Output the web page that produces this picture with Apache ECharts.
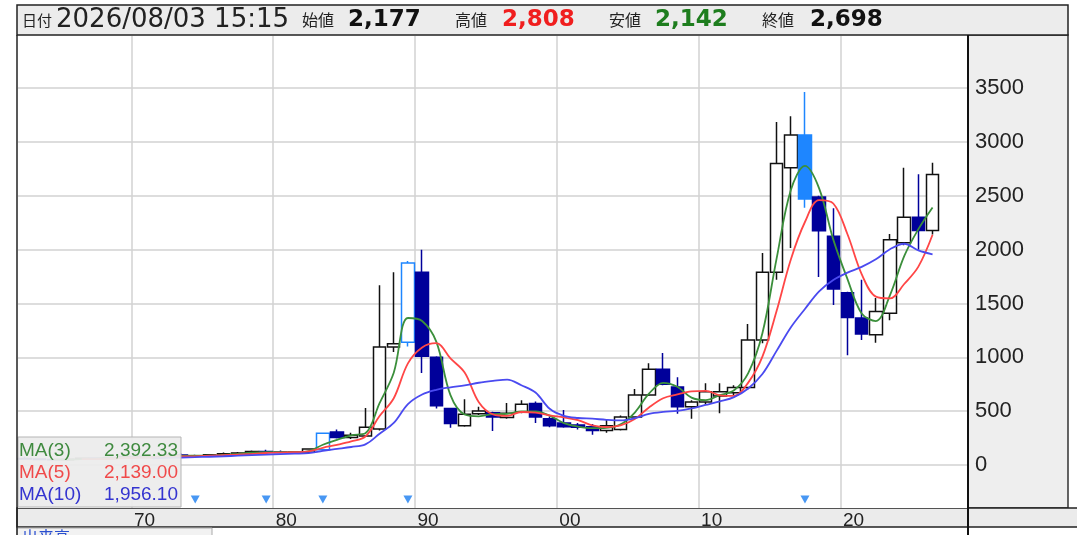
<!DOCTYPE html>
<html>
<head>
<meta charset="utf-8">
<script src="https://cdn.jsdelivr.net/npm/echarts@6/dist/echarts.min.js"></script>
<style>
html,body{margin:0;padding:0;background:#fff;}
#c{width:1077px;height:535px;}
</style>
</head>
<body>
<div id="c"></div>
<script>
// ---- data ----
const categories = ['1962','1963','1964','1965','1966','1967','1968','1969','1970','1971','1972','1973','1974','1975','1976','1977','1978','1979','1980','1981','1982','1983','1984','1985','1986','1987','1988','1989','1990','1991','1992','1993','1994','1995','1996','1997','1998','1999','2000','2001','2002','2003','2004','2005','2006','2007','2008','2009','2010','2011','2012','2013','2014','2015','2016','2017','2018','2019','2020','2021','2022','2023','2024','2025','2026','2027','2028'];
const opens  = [60,55,50,48,52,62,58,68,78,70,75,92,85,80,95,105,110,125,120,115,118,140,305,255,270,335,1095,1140,1790,1000,525,365,475,485,440,490,570,430,390,370,355,320,330,445,650,890,725,540,585,640,670,720,1160,1790,2760,3065,2490,2125,1600,1365,1210,1410,2065,2300,2177];
const highs  = [75,62,58,55,68,70,72,85,88,82,100,110,95,100,115,120,135,140,135,125,155,300,330,300,530,1670,1790,1895,2000,1010,530,610,540,495,575,600,590,450,510,390,380,420,460,705,945,1040,815,600,760,760,740,1310,1970,3185,3240,3465,2500,2385,1610,1720,1550,2145,2760,2700,2808];
const lows   = [50,45,42,40,50,52,55,62,62,60,70,75,70,75,85,95,100,110,110,105,110,130,245,240,260,320,1050,1100,855,525,345,355,465,315,430,480,390,350,345,330,280,300,320,440,640,740,475,430,560,480,650,700,1130,1720,2015,2390,1745,1485,1020,1160,1135,1345,2040,2000,2142];
const closes = [55,50,48,52,62,58,68,78,70,75,92,85,80,95,105,110,125,120,115,120,148,295,255,275,350,1095,1125,1875,1010,550,385,470,500,445,480,565,445,365,355,350,320,365,445,650,890,750,540,585,680,680,720,1160,1790,2800,3065,2470,2175,1635,1370,1216,1425,2093,2302,2177,2698];
const specialYears = ['1983','1989','2017'];
const markerYears  = ['1974','1979','1983','1989','2017'];
const yTicks = [0,500,1000,1500,2000,2500,3000,3500];
const maPeriods = [3,5,10];
const maColors = ['#3b8f3b','#ff4646','#4a4af0'];
const maTextColors = ['#3f8a3f','#f04a4a','#3434d0'];
const headerDate = '2026/08/03 15:15';

// ---- build ----
function ma(n){
  return closes.map((c,i)=>{
    if(i < n-1) return '-';
    let s=0; for(let k=i-n+1;k<=i;k++) s+=closes[k];
    return +(s/n).toFixed(2);
  });
}
const maSeries = maPeriods.map(ma);
const fmt2 = v => v.toLocaleString('en-US',{minimumFractionDigits:2,maximumFractionDigits:2});
const fmt0 = v => v.toLocaleString('en-US');
const last = closes.length-1;
const lightBlue = '#1e86ff';

const candleData = opens.map((o,i)=>{
  const item = {value:[o, closes[i], lows[i], highs[i]]};
  if(specialYears.includes(categories[i])){
    const down = closes[i] < o;
    const fill = down ? lightBlue : '#ffffff';
    item.itemStyle = {color:fill, color0:fill, borderColor:lightBlue, borderColor0:lightBlue};
  }
  return item;
});

const chart = echarts.init(document.getElementById('c'), null, {renderer:'canvas'});
const cjk = '"Noto Sans CJK JP"';
const num = '"Liberation Sans", Arial, sans-serif';

const graphics = [
  {type:'rect', z:-5, shape:{x:968,y:35,width:100,height:473}, style:{fill:'#eeeeee', stroke:'#333', lineWidth:1.5}},
  {type:'rect', z:-5, shape:{x:17,y:508,width:1070,height:19}, style:{fill:'#ebebeb', stroke:'#222', lineWidth:1.5}},
  {type:'line', z:20, shape:{x1:968,y1:35,x2:968,y2:540}, style:{stroke:'#111', lineWidth:2}},
  {type:'line', z:20, shape:{x1:17,y1:35,x2:17,y2:540}, style:{stroke:'#222', lineWidth:1.5}},
  {type:'rect', z:5, shape:{x:17,y:528,width:195,height:12}, style:{fill:'#f2f2f2', stroke:'#aaa', lineWidth:1}},
  {type:'text', z:6, x:22, y:529, style:{text:'出来高', fill:'#2a4fd0', font:'16px '+cjk, align:'left', verticalAlign:'top'}},
  {type:'rect', z:5, shape:{x:17,y:5,width:1051,height:30}, style:{fill:'#ececec', stroke:'#222', lineWidth:1.5}},
  {type:'text', z:6, x:22, y:20, style:{text:'日付', fill:'#222', font:'15px '+cjk, align:'left', verticalAlign:'middle'}},
  {type:'text', z:6, x:56, y:20, style:{text:headerDate, fill:'#222', font:'26px "DejaVu Sans"', align:'left', verticalAlign:'middle'}},
  {type:'text', z:6, x:302, y:20, style:{text:'始値', fill:'#222', font:'16px '+cjk, align:'left', verticalAlign:'middle'}},
  {type:'text', z:6, x:348, y:20, style:{text:fmt0(opens[last]), fill:'#111', font:'bold 23px "DejaVu Sans"', align:'left', verticalAlign:'middle'}},
  {type:'text', z:6, x:455, y:20, style:{text:'高値', fill:'#222', font:'16px '+cjk, align:'left', verticalAlign:'middle'}},
  {type:'text', z:6, x:502, y:20, style:{text:fmt0(highs[last]), fill:'#f01e1e', font:'bold 23px "DejaVu Sans"', align:'left', verticalAlign:'middle'}},
  {type:'text', z:6, x:609, y:20, style:{text:'安値', fill:'#222', font:'16px '+cjk, align:'left', verticalAlign:'middle'}},
  {type:'text', z:6, x:655, y:20, style:{text:fmt0(lows[last]), fill:'#1e7d1e', font:'bold 23px "DejaVu Sans"', align:'left', verticalAlign:'middle'}},
  {type:'text', z:6, x:762, y:20, style:{text:'終値', fill:'#222', font:'16px '+cjk, align:'left', verticalAlign:'middle'}},
  {type:'text', z:6, x:810, y:20, style:{text:fmt0(closes[last]), fill:'#111', font:'bold 23px "DejaVu Sans"', align:'left', verticalAlign:'middle'}},
  {type:'rect', z:10, shape:{x:18,y:437,width:163,height:70}, style:{fill:'rgba(236,236,236,0.94)', stroke:'#b5b5b5', lineWidth:1}}
];
maPeriods.forEach((p,k)=>{
  const y = 451 + k*22;
  const lastVal = maSeries[k][last];
  graphics.push({type:'text', z:11, x:19, y:y, style:{text:'MA('+p+')', fill:maTextColors[k], font:'19px '+num, align:'left', verticalAlign:'middle'}});
  graphics.push({type:'text', z:11, x:178, y:y, style:{text:fmt2(lastVal), fill:maTextColors[k], font:'19px '+num, align:'right', verticalAlign:'middle'}});
});

const series = [
  {
    type:'candlestick', name:'price', data:candleData, barWidth:13,
    itemStyle:{color:'#ffffff', color0:'#00009a', borderColor:'#111111', borderColor0:'#00009a', borderWidth:1.5}
  }
];
maPeriods.forEach((p,k)=>{
  series.push({type:'line', name:'MA('+p+')', data:maSeries[k], smooth:0.35, showSymbol:false, symbol:'none',
    lineStyle:{color:maColors[k], width:1.8}, z:3});
});
series.push({
  type:'scatter', name:'events', data:markerYears.map(y=>[y,-320]),
  symbol:'triangle', symbolRotate:180, symbolSize:[9,8], itemStyle:{color:'#1a7df0'}, z:4
});

chart.setOption({
  animation:false,
  backgroundColor:'#ffffff',
  grid:{left:18, right:109, top:36, bottom:27, show:true, backgroundColor:'#ffffff', borderWidth:0},
  xAxis:{
    type:'category', data:categories, boundaryGap:true,
    axisLine:{show:false}, axisTick:{show:false},
    splitLine:{show:true, interval:(i,v)=> (+v)%10===0, lineStyle:{color:'#d2d2d2', width:1.5}},
    axisLabel:{interval:(i,v)=> (+v)%10===0, formatter:v=>v.slice(2), fontSize:19, fontFamily:'Liberation Sans', color:'#222', margin:3, padding:[0,0,0,12]}
  },
  yAxis:{
    type:'value', position:'right', min:-400, max:3985,
    axisLine:{show:true, lineStyle:{color:'#111', width:2}},
    axisTick:{show:false, customValues:yTicks},
    axisLabel:{customValues:yTicks, formatter:v=>String(v), fontSize:22, fontFamily:'Liberation Sans', color:'#222', margin:7, align:'left'},
    splitLine:{show:true, lineStyle:{color:'#d2d2d2', width:1.5}}
  },
  series:series,
  graphic:graphics
});
</script>
</body>
</html>
